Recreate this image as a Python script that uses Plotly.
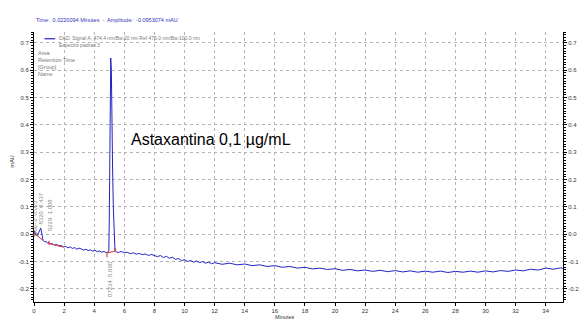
import plotly.graph_objects as go

# ---- data ----
time_min = [0.00, 0.05, 0.10, 0.15, 0.20, 0.25, 0.30, 0.35, 0.40, 0.45, 0.50, 0.55, 0.60, 0.70, 0.80, 0.90,
            1.00, 1.10, 1.20, 1.35, 1.50, 1.65, 1.80, 1.95, 2.10, 2.25, 2.40, 2.55, 2.70, 2.85, 3.00, 3.15,
            3.30, 3.45, 3.60, 3.75, 3.90, 4.05, 4.20, 4.35, 4.50, 4.65, 4.80, 4.90, 4.97, 5.00, 5.05, 5.10,
            5.14, 5.18, 5.22, 5.27, 5.32, 5.38, 5.45,
            5.6, 5.8, 6.0, 6.2, 6.4, 6.6, 6.8, 7.0, 7.2, 7.4, 7.6, 7.8, 8.0, 8.2, 8.4, 8.6, 8.8, 9.0, 9.2,
            9.4, 9.6, 9.8, 10.0, 10.2, 10.4, 10.6, 10.8, 11.0, 11.2, 11.4, 11.6, 11.8, 12.0,
            12.5, 13.0, 13.5, 14.0, 14.5, 15.0, 15.5, 16.0, 16.5, 17.0, 17.5, 18.0, 18.5, 19.0, 19.5, 20.0,
            20.5, 21.0, 21.5, 22.0, 22.5, 23.0, 23.5, 24.0, 24.5, 25.0, 25.5, 26.0, 26.5, 27.0, 27.5, 28.0,
            28.5, 29.0, 29.5, 30.0, 30.5, 31.0, 31.5, 32.0, 32.5, 33.0, 33.5, 34.0, 34.5, 35.0, 35.2]
signal_mau = [0.005, 0.012, 0.000, -0.005, 0.002, -0.004, 0.005, 0.010, 0.015, 0.022, 0.008, -0.015, -0.022, -0.028, -0.026, -0.033,
              -0.030, -0.036, -0.034, -0.040, -0.037, -0.043, -0.041, -0.047, -0.044, -0.050, -0.046, -0.052, -0.049, -0.055, -0.051, -0.054,
              -0.058, -0.055, -0.060, -0.057, -0.062, -0.059, -0.064, -0.061, -0.066, -0.063, -0.068, -0.066, -0.060, 0.050, 0.400, 0.645,
              0.600, 0.300, 0.250, 0.100, -0.030, -0.060, -0.064,
              -0.067, -0.063, -0.068, -0.066, -0.071, -0.068, -0.073, -0.070, -0.075, -0.072, -0.078, -0.074, -0.077, -0.082, -0.078, -0.085, -0.081, -0.088, -0.084,
              -0.092, -0.089, -0.097, -0.093, -0.100, -0.096, -0.102, -0.098, -0.104, -0.100, -0.106, -0.102, -0.108, -0.104,
              -0.110, -0.106, -0.112, -0.109, -0.115, -0.112, -0.118, -0.115, -0.121, -0.118, -0.124, -0.121, -0.127, -0.124, -0.129, -0.126,
              -0.132, -0.129, -0.134, -0.131, -0.136, -0.132, -0.137, -0.133, -0.138, -0.134, -0.139, -0.135, -0.139, -0.135, -0.140, -0.136,
              -0.139, -0.135, -0.139, -0.134, -0.138, -0.133, -0.136, -0.131, -0.134, -0.128, -0.131, -0.124, -0.128, -0.123, -0.126]

# integration baselines (red)
base1_t = [0.00, 0.58]
base1_y = [0.005, -0.022]
base2_t = [1.00, 1.95]
base2_y = [-0.034, -0.047]
base3_t = [4.85, 5.40]
base3_y = [-0.068, -0.062]
drop_t = [0.00, 1.00, 4.85, 5.40]
drop_y0 = [-0.010, -0.024, -0.085, -0.050]
drop_y1 = [0.015, -0.040, -0.068, -0.062]

peak_rt = [0.05, 0.48, 1.06, 5.09]
peak_label = ["2.3E-3  0.023", "8320  0.437", "5229  1.008", "07234  5.090"]
peak_label_y = [0.060, 0.095, 0.070, -0.165]

x_ticks = list(range(0, 36, 2))
y_ticks = [0.7, 0.6, 0.5, 0.4, 0.3, 0.2, 0.1, 0.0, -0.1, -0.2]
y_tick_text = ["0.7", "0.6", "0.5", "0.4", "0.3", "0.2", "0.1", "0.0", "-0.1", "-0.2"]

BLUE = "#2222c4"
RED = "#e03030"
GRAY = "#7a7a7a"
FONT = "Liberation Sans, Arial, sans-serif"

fig = go.Figure()
fig.add_trace(go.Scatter(x=time_min, y=signal_mau, mode="lines",
                         line=dict(color=BLUE, width=1), showlegend=False))
for bt, by in [(base1_t, base1_y), (base2_t, base2_y), (base3_t, base3_y)]:
    fig.add_trace(go.Scatter(x=bt, y=by, mode="lines", line=dict(color=RED, width=1), showlegend=False))
for t, a, b in zip(drop_t, drop_y0, drop_y1):
    fig.add_trace(go.Scatter(x=[t, t], y=[a, b], mode="lines", line=dict(color=RED, width=1), showlegend=False))
# right axis dummy
fig.add_trace(go.Scatter(x=[None], y=[None], yaxis="y2", showlegend=False))

yr = [-0.248, 0.740]
grid = dict(showgrid=True, gridcolor="#b4b4b4", griddash="dot", gridwidth=1)
fig.update_layout(
    width=586, height=321,
    margin=dict(l=34, r=23, t=32, b=19),
    paper_bgcolor="white", plot_bgcolor="white",
    font=dict(family=FONT, size=6, color="#333"),
    xaxis=dict(range=[0, 35.15], tickvals=x_ticks, ticks="outside", ticklen=3, tickcolor="black",
               showline=True, linecolor="black", linewidth=1, zeroline=False, automargin=False,
               tickfont=dict(size=6, color="#333"),
               minor=dict(ticks="outside", ticklen=2, tickcolor="black", nticks=5, showgrid=False),
               **grid),
    yaxis=dict(range=yr, tickvals=y_ticks, ticktext=y_tick_text, ticks="outside", ticklen=3, tickcolor="black",
               showline=True, linecolor="black", linewidth=1, zeroline=False, automargin=False,
               tickfont=dict(size=6, color="#333"),
               minor=dict(ticks="outside", ticklen=2, tickcolor="black", dtick=0.01, showgrid=False),
               **grid),
    yaxis2=dict(range=yr, overlaying="y", side="right", tickvals=y_ticks, ticktext=y_tick_text,
                ticks="outside", ticklen=3, tickcolor="black", showline=True, linecolor="black",
                linewidth=1, showgrid=False, zeroline=False, automargin=False,
                tickfont=dict(size=6, color="#333"),
                minor=dict(ticks="outside", ticklen=2, tickcolor="black", dtick=0.01)),
)

ann = []
ann.append(dict(xref="paper", yref="paper", x=0.0, y=1.0, yshift=7, xanchor="left", yanchor="bottom",
                text="Time:  0.0220094 Minutes  -  Amplitude:  -0.0953074 mAU", showarrow=False,
                font=dict(size=5.5, color="#3333bb")))
ann.append(dict(xref="paper", yref="paper", x=0.043, y=0.995, xanchor="left", yanchor="top", align="left",
                text="DAD: Signal A, 474.4 nm/Bw:20 nm Ref 475.0 nm/Bw:100.0 nm<br>Espectro padrao 3",
                showarrow=False, font=dict(size=5, color=GRAY)))
ann.append(dict(xref="paper", yref="paper", x=0.004, y=0.94, xanchor="left", yanchor="top", align="left",
                text="Area<br>Retention Time<br>[Group]<br>Name", showarrow=False,
                font=dict(size=5.5, color=GRAY)))
ann.append(dict(xref="x", yref="y", x=6.3, y=0.345, xanchor="left", yanchor="middle",
                text="Astaxantina 0,1 µg/mL", showarrow=False,
                font=dict(family=FONT, size=16, color="black")))
ann.append(dict(xref="paper", yref="paper", x=-0.042, y=0.52, xanchor="center", yanchor="middle",
                text="mAU", textangle=-90, showarrow=False, font=dict(size=5.5, color="#333")))
ann.append(dict(xref="paper", yref="paper", x=0.475, y=0, yshift=-15, xanchor="center", yanchor="middle",
                text="Minutes", showarrow=False, font=dict(size=5.5, color="#333")))
for t, lab, ly in zip(peak_rt, peak_label, peak_label_y):
    ann.append(dict(xref="x", yref="y", x=t, y=ly, text=lab, textangle=-90, showarrow=False,
                    xanchor="center", yanchor="middle", font=dict(size=6, color="#8a8a8a")))
fig.update_layout(annotations=ann)
fig.add_shape(type="line", xref="paper", yref="paper", x0=0.02, x1=0.04, y0=0.975, y1=0.975,
              line=dict(color=BLUE, width=1.2))

fig.write_html("out.html", config={"displayModeBar": False},
               post_script="document.body.style.margin='0';document.body.style.overflow='hidden';")
